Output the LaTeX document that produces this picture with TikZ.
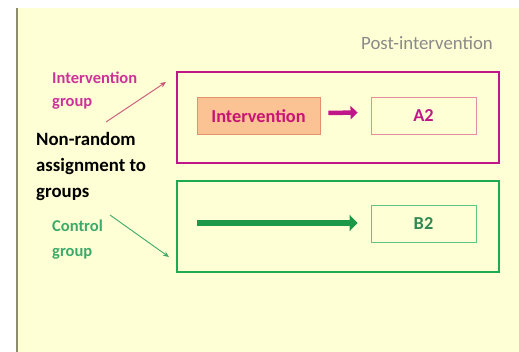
\documentclass[tikz,border=0pt]{standalone}
\usepackage{fontspec}
\setmainfont{Carlito}
\usetikzlibrary{arrows.meta}
\definecolor{bgyel}{HTML}{FFFFD6}
\definecolor{edge}{HTML}{8C8C6C}
\definecolor{mag}{HTML}{C0168A}
\definecolor{pinkt}{HTML}{CC3399}
\definecolor{grn}{HTML}{1EAA50}
\definecolor{grnt}{HTML}{3DAA6A}
\definecolor{peach}{HTML}{FBC294}
\definecolor{peachb}{HTML}{E8906A}
\definecolor{gtxt}{HTML}{8A8A8A}
\tikzset{
  outerbox/.style={draw, line width=2pt},
  innerbox/.style={draw, line width=0.9pt, minimum width=105pt, minimum height=37pt, inner sep=0pt, font=\bfseries\fontsize{18.3}{20}\selectfont},
  lbl/.style={align=left, anchor=north west, inner sep=0pt},
}
\begin{document}
\begin{tikzpicture}[x=1pt,y=-1pt]
\useasboundingbox (0,0) rectangle (519,352);
\fill[white] (0,0) rectangle (519,352);
\fill[bgyel] (17,8) rectangle (519,352);
\fill[edge] (16,8) rectangle (18,352);
% title
\node[text=gtxt, font=\fontsize{18.8}{20}\selectfont] (post) at (427,43) {Post-intervention};
% outer boxes
\node[outerbox, draw=mag, minimum width=322pt, minimum height=91pt, inner sep=0pt] (ibox) at (338,117.5) {};
\node[outerbox, draw=grn, minimum width=322pt, minimum height=91pt, inner sep=0pt] (cbox) at (338,226.5) {};
% inner boxes
\node[innerbox, draw=peachb, fill=peach, minimum width=123pt, text=mag!85!red] (int) at (258.5,116) {Intervention};
\node[innerbox, draw=peachb!60!mag!70, text=mag] (a2) at (423.5,115.5) {A2};
\node[innerbox, draw=grn!70, text=grnt!80!black] (b2) at (423.5,224) {B2};
\coordinate (gstart) at (197,223);
% inner arrows
\draw[mag, line width=4.5pt, -{Triangle[length=7pt,width=13pt]}] (int.east) ++(8pt,3pt) -- ([xshift=-13pt,yshift=3pt]a2.west);
\draw[grn!90!black, line width=6.5pt, -{Triangle[length=8pt,width=16pt]}] (gstart) -- ([xshift=-13pt]b2.west |- gstart);
% left labels
\node[lbl, text=pinkt, font=\bfseries\fontsize{16.5}{23}\selectfont] (ig) at (52,72) {Intervention\\group};
\node[lbl, text=black, font=\bfseries\fontsize{18.8}{26}\selectfont] (nr) at (36,132) {Non-random\\assignment to\\groups};
\node[lbl, text=grnt, font=\bfseries\fontsize{16.5}{25}\selectfont] (cg) at (52,220) {Control\\group};
\coordinate (ia1) at (106,122);
\coordinate (ia2) at (166,82);
\coordinate (ca1) at (110,215);
\coordinate (ca2) at (169,257);
\draw[pinkt!60!brown, line width=0.9pt, -{Stealth[length=6pt,width=5pt]}] (ia1) -- (ia2);
\draw[grnt, line width=0.9pt, -{Stealth[length=6pt,width=5pt]}] (ca1) -- (ca2);
\end{tikzpicture}
\end{document}
